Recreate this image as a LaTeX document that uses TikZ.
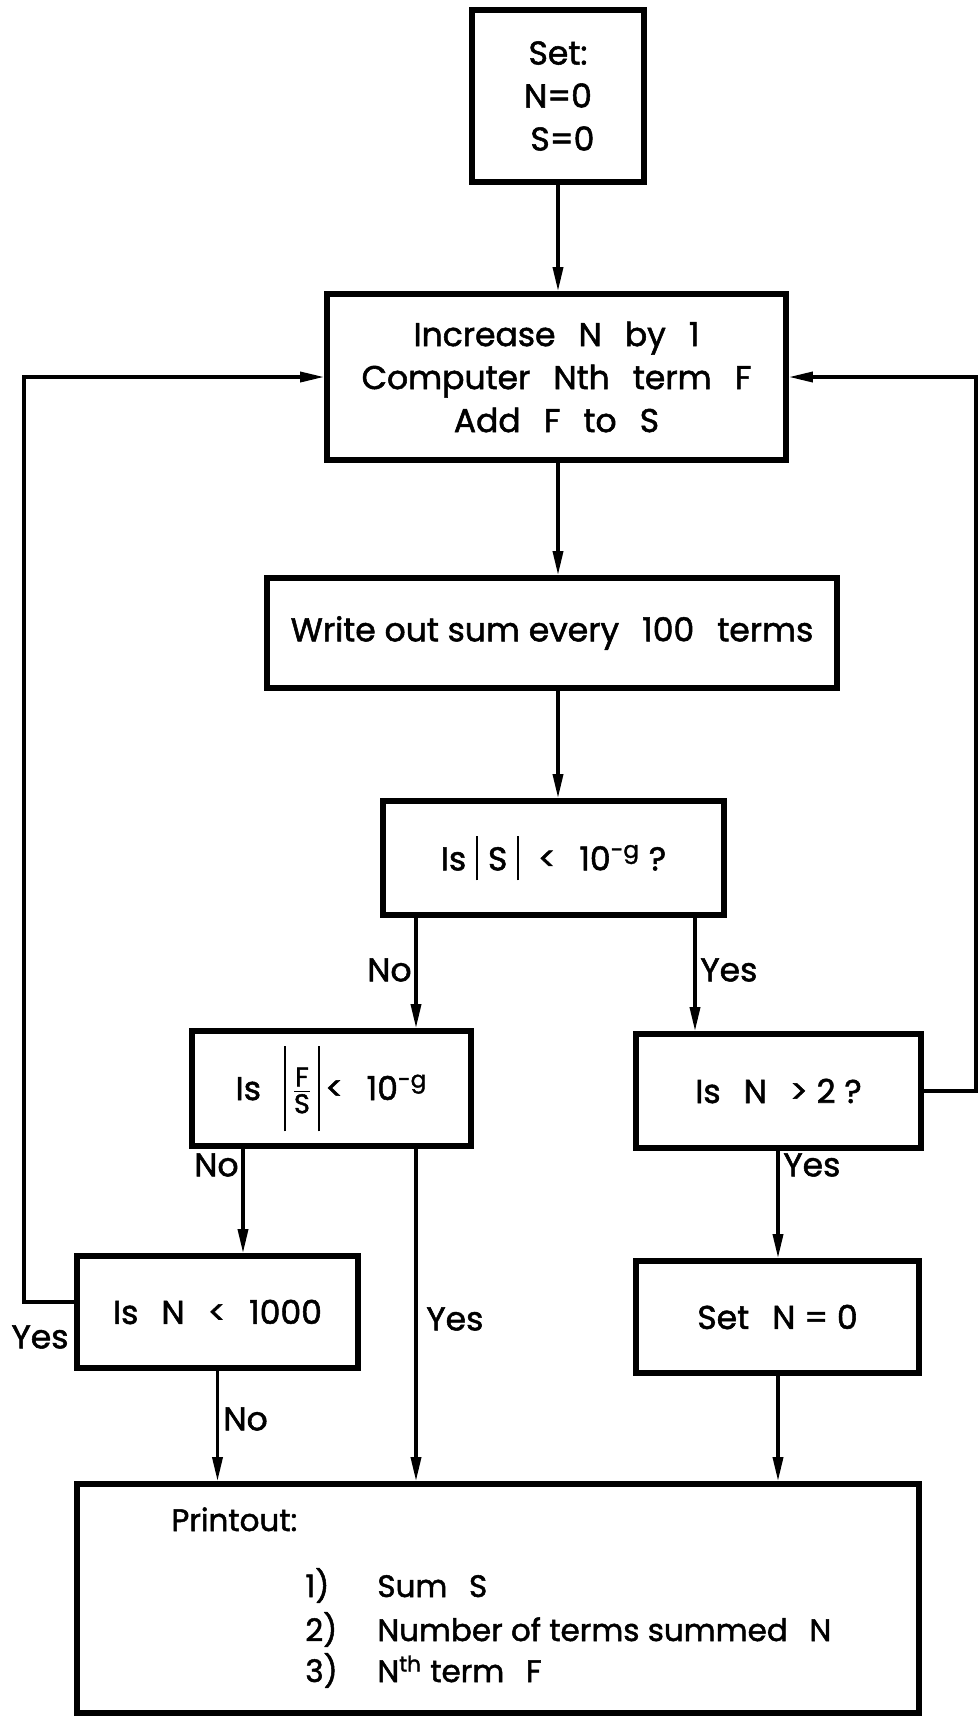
\documentclass[tikz,border=0pt]{standalone}
\usepackage{fontspec}
\setmainfont{Poppins}[UprightFeatures={FakeBold=1.6}]
\usetikzlibrary{arrows.meta}
\newcommand{\vb}{\rule[-0.3em]{1pt}{1.35em}}
\newcommand{\Vb}{\rule[-0.95em]{1pt}{2.6em}}
\newcommand{\fs}[1]{\hbox{\fontsize{13.5}{13.5}\selectfont #1}}
\newcommand{\gp}{\hspace{0.7em}}
\newcommand{\sg}{\hspace{0.3em}}
\begin{document}
\begin{tikzpicture}[x=0.5pt,y=-0.5pt,
  box/.style={draw,line width=2.8pt,inner sep=0pt,align=center,
    font=\fontsize{16.5}{21.5}\selectfont},
  arr/.style={line width=1.7pt,-{Triangle[length=12pt,width=5pt]}},
  lbl/.style={font=\fontsize{16.5}{20}\selectfont,inner sep=1pt},
  txt/.style={font=\fontsize{15.5}{20}\selectfont,inner sep=0pt,anchor=base west}]
\useasboundingbox (0,0) rectangle (978,1720);
% boxes
\node[box,minimum width=86pt,minimum height=86pt] (set) at (558,96) {Set:\\N=0\\\ S=0};
\node[box,minimum width=229.5pt,minimum height=83pt] (inc) at (556.5,377)
  {Increase\gp N\gp by\gp 1\\Computer\gp Nth\gp term\gp F\\Add\gp F\gp to\gp S};
\node[box,minimum width=285pt,minimum height=55pt] (write) at (552,633)
  {Write out sum every\gp 100\gp terms};
\node[box,minimum width=170.5pt,minimum height=57pt] (isS) at (553.5,858)
  {Is\sg\vb\sg S\sg\vb\sg\ <\gp 10\textsuperscript{-g}\ ?};
\node[box,minimum width=139.5pt,minimum height=57.5pt] (isFS) at (331.5,1088.5)
  {Is\gp\Vb\,$\fs{F}\above0.9pt\fs{S}$\,\Vb\,<\gp 10\textsuperscript{-g}};
\node[box,minimum width=142.5pt,minimum height=57pt] (isN2) at (778.5,1091)
  {Is\gp N\gp > 2\ ?};
\node[box,minimum width=140.5pt,minimum height=56pt] (n1000) at (217.5,1312)
  {Is\gp N\gp <\gp 1000};
\node[box,minimum width=141.5pt,minimum height=56pt] (setN0) at (777.5,1317)
  {Set\gp N = 0};
\node[box,minimum width=421pt,minimum height=114.5pt] (print) at (498,1598.5) {};
% printout texts
\node[txt] (ptitle) at (171,1531) {Printout:};
\node[txt] (i1) at (305,1597) {1)};
\node[txt] (t1) at (377,1597) {Sum\gp S};
\node[txt] (i2) at (305,1641) {2)};
\node[txt] (t2) at (377,1641) {Number of terms summed\gp N};
\node[txt] (i3) at (305,1682) {3)};
\node[txt] (t3) at (377,1682) {N\textsuperscript{th} term\gp F};
% x positions of connectors
\coordinate (xA) at (416,0);
\coordinate (xB) at (695,0);
\coordinate (xC) at (243,0);
\coordinate (xD) at (778,0);
\coordinate (xL) at (24,0);
\coordinate (xR) at (976,0);
% connectors
\draw[arr] (set.south) -- (set.south |- inc.north);
\draw[arr] (inc.south -| set) -- (write.north -| set);
\draw[arr] (write.south -| set) -- (isS.north -| set);
\draw[arr] (isS.south -| xA) -- (isFS.north -| xA);
\draw[arr] (isS.south -| xB) -- (isN2.north -| xB);
\draw[arr] (isFS.south -| xC) -- (n1000.north -| xC);
\draw[arr] (isFS.south -| xA) -- (print.north -| xA);
\draw[arr] (isN2.south -| xD) -- (setN0.north -| xD);
\draw[arr] (setN0.south -| xD) -- (print.north -| xD);
\draw[arr] (n1000.south) -- (n1000.south |- print.north);
\draw[arr] ([yshift=5pt]n1000.west) -| (xL |- inc.west) -- (inc.west);
\draw[arr] (isN2.east) -| (xR |- inc.east) -- (inc.east);
% labels
\node[lbl,anchor=east] (lNo1) at (414,970) {No};
\node[lbl,anchor=west] (lYes1) at (698,970) {Yes};
\node[lbl,anchor=east] (lNo2) at (241,1165) {No};
\node[lbl,anchor=west] (lYes2) at (781,1165) {Yes};
\node[lbl,anchor=west] (lYes3) at (424,1319) {Yes};
\node[lbl] (lYes4) at (40,1337) {Yes};
\node[lbl,anchor=west] (lNo3) at (221,1419) {No};
\end{tikzpicture}
\end{document}
